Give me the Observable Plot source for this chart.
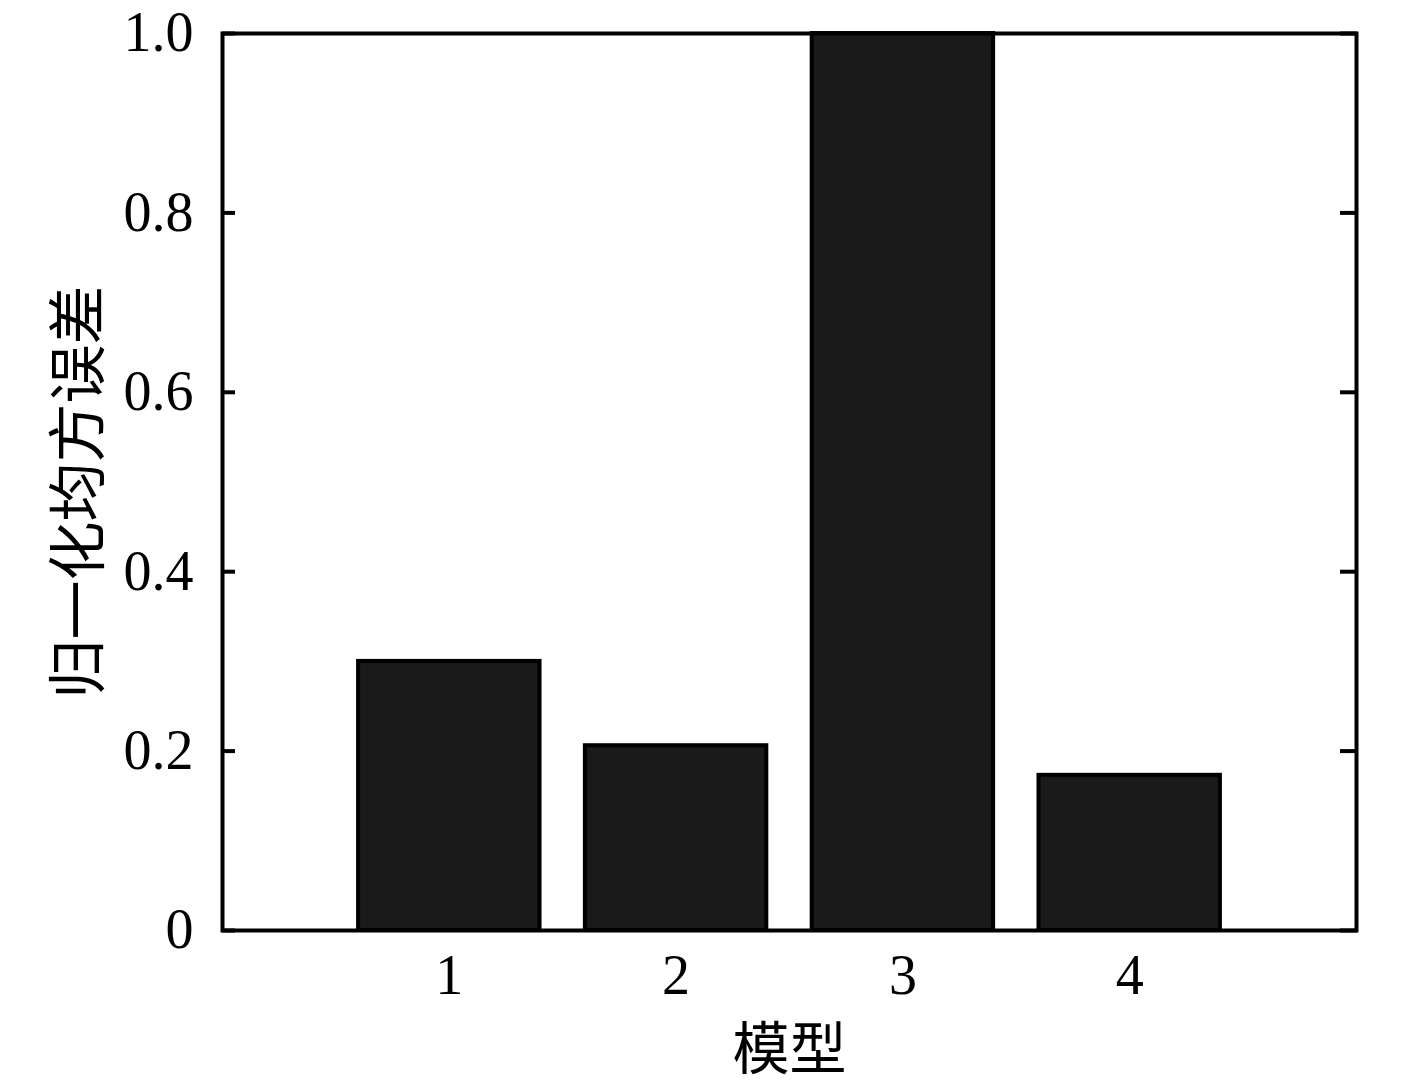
<!DOCTYPE html>
<html><head><meta charset="utf-8">
<script src="https://cdn.jsdelivr.net/npm/d3@7"></script>
<script src="https://cdn.jsdelivr.net/npm/@observablehq/plot@0.6"></script>
<style>body{margin:0;background:#fff} svg{display:block}</style>
</head><body><div id="chart"></div>
<script>
const models = [1, 2, 3, 4];
const nmse = [0.300, 0.206, 1.0, 0.173];
const yTicks = [0, 0.2, 0.4, 0.6, 0.8, 1.0];
const xTicks = [1, 2, 3, 4];
const xLabel = "模型";
const yLabel = "归一化均方误差";

const data = models.map((m, i) => ({model: m, value: nmse[i]}));
const serif = "'Liberation Serif', 'Times New Roman', serif";
const cjk = "'Noto Sans CJK SC', sans-serif";

const plot = Plot.plot({
  width: 1415, height: 1086,
  marginLeft: 222, marginRight: 59, marginTop: 33, marginBottom: 156,
  style: {fontFamily: serif, background: "#fff", color: "#000"},
  x: {domain: [0, 5], axis: null},
  y: {domain: [0, 1], axis: null},
  marks: [
    Plot.rectY(data, {x1: d => d.model - 0.4, x2: d => d.model + 0.4, y1: 0, y2: "value",
      fill: "#1a1a1a", stroke: "#000", strokeWidth: 4}),
    Plot.axisY(yTicks, {anchor: "left", tickSize: -13, tickPadding: 42,
      tickFormat: d => d === 0 ? "0" : d.toFixed(1), fontSize: 56, strokeWidth: 4, label: null}),
    Plot.axisY(yTicks, {anchor: "right", tickSize: -17, tickFormat: () => "", strokeWidth: 4, label: null}),
    Plot.axisX(xTicks, {anchor: "bottom", tickSize: 0, tickPadding: 24, fontSize: 56,
      tickFormat: d => String(d), label: null}),
    Plot.frame({stroke: "#000", strokeWidth: 4}),
    Plot.text([yLabel], {frameAnchor: "left", textAnchor: "middle", rotate: -90, dx: -142, dy: 10,
      fontSize: 59, fontFamily: cjk, fill: "#000", text: d => d}),
    Plot.text([xLabel], {frameAnchor: "bottom", textAnchor: "middle", dy: 120, lineAnchor: "middle",
      fontSize: 57, fontFamily: cjk, fill: "#000", text: d => d})
  ]
});
document.getElementById("chart").appendChild(plot);
</script>
</body></html>
